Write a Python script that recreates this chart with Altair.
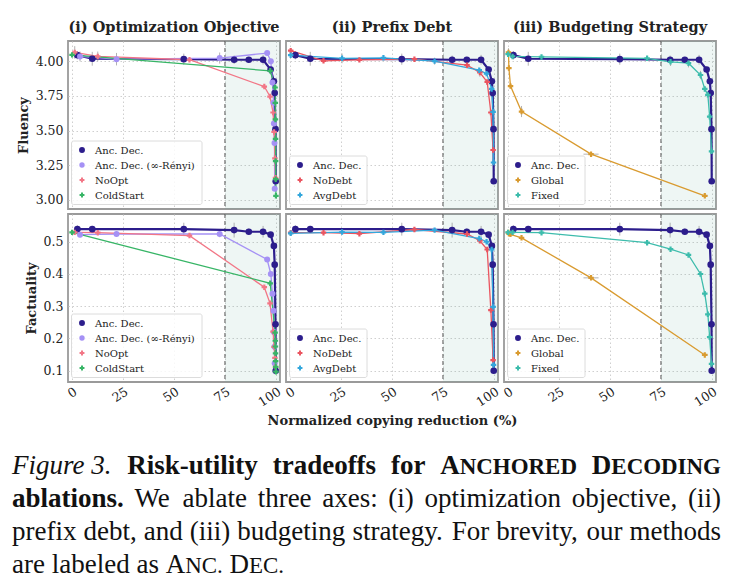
import altair as alt
import pandas as pd

# ---------------- data: normalized copying reduction (%) vs. utility ----------------
# Anc. Dec. (shared by all three ablations)
anc_x = [2.6, 9.9, 54.8, 79.5, 86.7, 93.7, 97.4, 99.0, 99.4, 99.8, 99.9]
anc_flu = [4.043, 4.017, 4.014, 4.010, 4.010, 4.010, 3.940, 3.855, 3.770, 3.510, 3.135]
anc_fac = [0.539, 0.539, 0.539, 0.536, 0.531, 0.531, 0.522, 0.487, 0.429, 0.244, 0.100]
anc_flu_err = [0.030, 0.050, 0.040, 0.030, 0.020, 0.035, 0.020, 0.0, 0.0, 0.0, 0.0]
anc_fac_err = [0.012, 0.010, 0.020, 0.023, 0.010, 0.018, 0.008, 0.0, 0.0, 0.0, 0.0]

# (i) optimization objective
renyi_x = [3.9, 21.8, 72.4, 95.7, 97.5, 98.3, 98.8, 99.0, 99.3, 99.4]
renyi_flu = [4.034, 4.014, 4.022, 4.058, 4.000, 3.846, 3.700, 3.550, 3.410, 3.080]
renyi_fac = [0.522, 0.524, 0.524, 0.445, 0.400, 0.339, 0.286, 0.220, 0.174, 0.123]
renyi_flu_err = [0.035, 0.045, 0.040, 0.0, 0.0, 0.0, 0.0, 0.0, 0.0, 0.0]
renyi_fac_err = [0.008, 0.008, 0.010, 0.0, 0.0, 0.0, 0.0, 0.0, 0.0, 0.0]

noopt_x = [1.3, 12.6, 57.6, 94.3, 97.1, 98.6, 99.1, 99.5, 99.8]
noopt_flu = [4.063, 4.034, 4.010, 3.817, 3.745, 3.630, 3.490, 3.300, 3.160]
noopt_fac = [0.529, 0.528, 0.519, 0.359, 0.309, 0.221, 0.174, 0.140, 0.112]
noopt_flu_err = [0.045, 0.035, 0.0, 0.0, 0.0, 0.0, 0.0, 0.0, 0.0]
noopt_fac_err = [0.006, 0.006, 0.006, 0.0, 0.0, 0.0, 0.0, 0.0, 0.0]

cold_x = [0.0, 97.2, 99.6, 99.7, 99.75, 99.8, 99.85, 99.9, 100.0]
cold_flu = [4.045, 3.930, 3.810, 3.700, 3.580, 3.440, 3.280, 3.150, 3.030]
cold_fac = [0.529, 0.371, 0.218, 0.193, 0.175, 0.154, 0.130, 0.112, 0.097]

# (ii) prefix debt
nodebt_x = [0.3, 16.4, 34.0, 61.0, 86.8, 93.1, 96.7, 98.5, 99.6]
nodebt_flu = [4.075, 4.002, 4.009, 4.014, 3.971, 3.918, 3.850, 3.630, 3.360]
nodebt_fac = [0.528, 0.528, 0.525, 0.538, 0.524, 0.503, 0.476, 0.288, 0.133]
nodebt_flu_err = [0.020, 0.0, 0.0, 0.0, 0.0, 0.030, 0.0, 0.0, 0.0]
nodebt_fac_err = [0.006, 0.0, 0.0, 0.006, 0.0, 0.0, 0.0, 0.0, 0.0]

avgdebt_x = [0.3, 25.5, 45.8, 70.9, 92.8, 96.4, 98.9, 99.6, 99.8]
avgdebt_flu = [4.043, 4.020, 4.024, 4.000, 3.935, 3.910, 3.800, 3.635, 3.270]
avgdebt_fac = [0.526, 0.530, 0.529, 0.536, 0.510, 0.500, 0.476, 0.298, 0.118]
avgdebt_flu_err = [0.0, 0.035, 0.0, 0.025, 0.0, 0.0, 0.0, 0.0, 0.0]
avgdebt_fac_err = [0.0, 0.006, 0.0, 0.006, 0.0, 0.0, 0.0, 0.0, 0.0]

# (iii) budgeting strategy
global_x = [0.2, 0.4, 1.2, 6.6, 40.7, 96.5]
global_flu = [4.063, 3.950, 3.820, 3.637, 3.330, 3.030]
global_fac = [0.529, 0.525, 0.523, 0.512, 0.388, 0.149]
global_flu_err = [0.030, 0.0, 0.0, 0.040, 0.008, 0.015]
global_fac_err = [0.0, 0.0, 0.0, 0.0, 0.006, 0.0]
global_x_err = [0.0, 0.0, 0.0, 0.0, 3.7, 1.5]

fixed_x = [0.0, 2.2, 16.4, 68.2, 79.7, 88.5, 94.4, 96.5, 98.0, 98.9, 99.8]
fixed_flu = [4.050, 4.034, 4.030, 4.020, 3.995, 3.985, 3.900, 3.800, 3.757, 3.600, 3.350]
fixed_fac = [0.529, 0.529, 0.528, 0.497, 0.477, 0.459, 0.400, 0.339, 0.275, 0.204, 0.121]
fixed_flu_err = [0.0, 0.0, 0.0, 0.015, 0.030, 0.030, 0.030, 0.0, 0.0, 0.0, 0.0]

x_ticks = [0, 25, 50, 75, 100]
flu_ticks = [3.0, 3.25, 3.5, 3.75, 4.0]
fac_ticks = [0.1, 0.2, 0.3, 0.4, 0.5]

# ---------------- styling ----------------
SERIF = "DejaVu Serif"
CAPTION_FONT = "Liberation Serif"
W, H = 212, 168

COLORS = {
    "Anc. Dec.": "#2c1d8c",
    "Anc. Dec. (∞-Rényi)": "#a591f5",
    "NoOpt": "#f27686",
    "ColdStart": "#37b566",
    "NoDebt": "#ea5560",
    "AvgDebt": "#33a7dc",
    "Global": "#d99b30",
    "Fixed": "#3dbcac",
}
SHAPES = {"Anc. Dec.": "circle", "Anc. Dec. (∞-Rényi)": "circle"}
YDOM = {"fluency": [2.935, 4.145], "factuality": [0.065, 0.586]}
YTICKS = {"fluency": flu_ticks, "factuality": fac_ticks}
YFMT = {"fluency": ".2f", "factuality": ".1f"}
YTITLE = {"fluency": "Fluency", "factuality": "Factuality"}


def marker_size(method):
    if method == "Anc. Dec.":
        return 44
    return 36 if "Rényi" in method else 30


def rows(method, xs, flu, fac, flu_err=None, fac_err=None, x_err=None):
    n = len(xs)
    flu_err = flu_err or [0.0] * n
    fac_err = fac_err or [0.0] * n
    x_err = x_err or [0.0] * n
    return [
        dict(method=method, step=i, x=xs[i], fluency=flu[i], factuality=fac[i],
             fluency_err=flu_err[i], factuality_err=fac_err[i], x_err=x_err[i],
             lw=2.2 if method == "Anc. Dec." else 1.3, ms=marker_size(method))
        for i in range(n)
    ]


anc_rows = rows("Anc. Dec.", anc_x, anc_flu, anc_fac, anc_flu_err, anc_fac_err)
df_obj = pd.DataFrame(
    anc_rows
    + rows("Anc. Dec. (∞-Rényi)", renyi_x, renyi_flu, renyi_fac, renyi_flu_err, renyi_fac_err)
    + rows("NoOpt", noopt_x, noopt_flu, noopt_fac, noopt_flu_err, noopt_fac_err)
    + rows("ColdStart", cold_x, cold_flu, cold_fac)
)
df_debt = pd.DataFrame(
    anc_rows
    + rows("NoDebt", nodebt_x, nodebt_flu, nodebt_fac, nodebt_flu_err, nodebt_fac_err)
    + rows("AvgDebt", avgdebt_x, avgdebt_flu, avgdebt_fac, avgdebt_flu_err, avgdebt_fac_err)
)
df_budget = pd.DataFrame(
    anc_rows
    + rows("Global", global_x, global_flu, global_fac, global_flu_err, global_fac_err, global_x_err)
    + rows("Fixed", fixed_x, fixed_flu, fixed_fac, fixed_flu_err)
)

ONE = pd.DataFrame({"k": [0]})


def legend_box(methods, box_right):
    """Matplotlib-style legend drawn in the lower-left corner of a panel."""
    step = 15
    first = H - 14 - step * (len(methods) - 1)
    layers = [alt.Chart(ONE).mark_rect(
        fill="white", fillOpacity=0.82, stroke="#dcdcdc", strokeWidth=1, cornerRadius=2,
    ).encode(x=alt.value(3.5), x2=alt.value(box_right),
             y=alt.value(first - 9), y2=alt.value(H - 4.5))]
    for i, m in enumerate(methods):
        yy = first + step * i
        layers.append(alt.Chart(ONE).mark_point(
            filled=True, opacity=1, shape=SHAPES.get(m, "cross"),
            size=marker_size(m) * 0.8, color=COLORS[m],
        ).encode(x=alt.value(14), y=alt.value(yy)))
        layers.append(alt.Chart(pd.DataFrame({"t": [m]})).mark_text(
            font=SERIF, fontSize=10, align="left", baseline="middle", color="#222",
        ).encode(x=alt.value(27), y=alt.value(yy + 0.5), text="t:N"))
    return layers


def panel(df, methods, metric, box_right, title=None, left=False, bottom=False, xlabel=False):
    xsc = alt.Scale(domain=[-2, 102], nice=False, zero=False)
    ysc = alt.Scale(domain=YDOM[metric], nice=False, zero=False)
    xaxis = alt.Axis(values=x_ticks, labels=bottom, ticks=False, domain=False, grid=True,
                     gridColor="#c9c9c9", gridDash=[1.5, 2.5], gridWidth=0.9,
                     labelAngle=-33, labelAlign="right", labelBaseline="top",
                     labelFont=SERIF, labelFontSize=12.5, labelColor="#222", labelPadding=3,
                     titleFont=SERIF, titleFontWeight="bold", titleFontSize=13,
                     titleColor="#222", titlePadding=6)
    yaxis = alt.Axis(values=YTICKS[metric], format=YFMT[metric], labels=left, ticks=False,
                     domain=False, grid=True, gridColor="#c9c9c9", gridDash=[1.5, 2.5],
                     gridWidth=0.9, labelFont=SERIF, labelFontSize=12.5, labelColor="#222",
                     labelPadding=5, titleFont=SERIF, titleFontWeight="bold",
                     titleFontSize=13, titleColor="#222", titlePadding=5)
    xt = "Normalized copying reduction (%)" if xlabel else None
    yt = YTITLE[metric] if left else None

    def X(field):
        return alt.X(field, scale=xsc, axis=xaxis, title=xt)

    def Y(field):
        return alt.Y(field, scale=ysc, axis=yaxis, title=yt)

    colors = [COLORS[m] for m in methods]
    cscale = alt.Scale(domain=methods, range=colors)
    sscale = alt.Scale(domain=methods, range=[SHAPES.get(m, "cross") for m in methods])

    base = alt.Chart(df)
    zone = alt.Chart(pd.DataFrame({"lo": [75], "hi": [102]}))
    shade = zone.mark_rect(color="#55a591", opacity=0.1).encode(
        x=X("lo:Q"), x2="hi:Q", y=alt.value(0), y2=alt.value(H))
    cut = zone.mark_rule(color="#555555", strokeDash=[4, 3], strokeWidth=1).encode(x=X("lo:Q"))

    yerr = base.transform_filter(f"datum.{metric}_err > 0").transform_calculate(
        lo=f"datum.{metric} - datum.{metric}_err", hi=f"datum.{metric} + datum.{metric}_err"
    ).mark_rule(color="#8c8c8c", strokeWidth=0.9, opacity=0.75).encode(
        x=X("x:Q"), y=Y("lo:Q"), y2="hi:Q")
    xerr = base.transform_filter("datum.x_err > 0").transform_calculate(
        lo="datum.x - datum.x_err", hi="datum.x + datum.x_err"
    ).mark_rule(color="#8c8c8c", strokeWidth=0.9, opacity=0.75).encode(
        x=X("lo:Q"), x2="hi:Q", y=Y(f"{metric}:Q"))

    lines = base.mark_line().encode(
        x=X("x:Q"), y=Y(f"{metric}:Q"),
        stroke=alt.Stroke("method:N", scale=cscale, legend=None),
        detail="method:N",
        order=alt.Order("step:Q"),
        strokeWidth=alt.StrokeWidth("lw:Q", scale=None, legend=None),
    )
    points = base.mark_point(filled=True, opacity=1).encode(
        x=X("x:Q"), y=Y(f"{metric}:Q"),
        color=alt.Color("method:N", scale=cscale, legend=None),
        shape=alt.Shape("method:N", scale=sscale, legend=None),
        size=alt.Size("ms:Q", scale=None, legend=None),
    )
    layer = alt.layer(shade, cut, yerr, xerr, lines, points,
                      *legend_box(methods, box_right)).properties(
        width=W, height=H, view=alt.ViewBackground(stroke="#9a9a9a", strokeWidth=1.8))
    if title:
        layer = layer.properties(title=alt.TitleParams(
            text=title, font=SERIF, fontWeight="bold", fontSize=14.5, color="#222",
            offset=5, anchor="middle"))
    return layer


OBJ = ["Anc. Dec.", "Anc. Dec. (∞-Rényi)", "NoOpt", "ColdStart"]
DEBT = ["Anc. Dec.", "NoDebt", "AvgDebt"]
BUDGET = ["Anc. Dec.", "Global", "Fixed"]

# ---------------- figure caption (justified, Times-style metrics) ----------------
ADV = {
    "normal": {" ": 250, "(": 333, ")": 333, ",": 250, ".": 250, ":": 278, "A": 722,
               "C": 667, "D": 722, "E": 611, "F": 556, "N": 722, "W": 944, "a": 444,
               "b": 500, "c": 444, "d": 500, "e": 444, "f": 333, "g": 500, "h": 500,
               "i": 278, "j": 278, "l": 278, "m": 778, "n": 500, "o": 500, "p": 500,
               "r": 333, "s": 389, "t": 278, "u": 500, "v": 500, "x": 500, "y": 500,
               "z": 444},
    "bold": {" ": 250, "-": 333, ".": 250, "A": 722, "C": 722, "D": 722, "E": 667,
             "G": 778, "H": 778, "I": 389, "N": 722, "O": 778, "R": 722, "a": 500,
             "b": 556, "d": 556, "e": 444, "f": 333, "i": 278, "k": 556, "l": 278,
             "n": 556, "o": 500, "r": 444, "s": 389, "t": 333, "u": 556, "y": 500},
    "italic": {" ": 250, "F": 611, "i": 278, "g": 500, "u": 500, "r": 389, "e": 444,
               "3": 500, ".": 250},
}
FS = 27.0
SC = FS * 0.85
CAP_LEFT, CAP_WIDTH = -56, 709
LINE_Y = [87, 120, 153, 186]


def piece_width(text, size, kind):
    return sum(ADV[kind][ch] for ch in text) * size / 1000.0


def R(t, size=FS):
    return (t, size, "normal")


def B(t, size=FS):
    return (t, size, "bold")


def I(t, size=FS):
    return (t, size, "italic")


caption_lines = [
    ([[I("Figure 3.")], [B("Risk-utility")], [B("tradeoffs")], [B("for")],
      [B("A"), B("NCHORED", SC)], [B("D"), B("ECODING", SC)]], True),
    ([[B("ablations.")]] + [[R(w)] for w in
      "We ablate three axes: (i) optimization objective, (ii)".split()], True),
    ([[R(w)] for w in
      "prefix debt, and (iii) budgeting strategy. For brevity, our methods".split()], True),
    ([[R("are")], [R("labeled")], [R("as")], [R("A"), R("NC.", SC)],
      [R("D"), R("EC.", SC)]], False),
]

cap_layers = []
for (words, justify), y in zip(caption_lines, LINE_Y):
    widths = [sum(piece_width(t, s, k) for t, s, k in w) for w in words]
    gap = (CAP_WIDTH - sum(widths)) / (len(words) - 1) if justify else FS * 0.25
    x = CAP_LEFT
    for w, ww in zip(words, widths):
        px = x
        for t, s, k in w:
            cap_layers.append(
                alt.Chart(pd.DataFrame({"t": [t]})).mark_text(
                    font=CAPTION_FONT, fontSize=s,
                    fontWeight="bold" if k == "bold" else "normal",
                    fontStyle="italic" if k == "italic" else "normal",
                    align="left", baseline="alphabetic", color="#111",
                ).encode(x=alt.value(px), y=alt.value(y), text="t:N")
            )
            px += piece_width(t, s, k)
        x += ww + gap

caption = alt.layer(*cap_layers).properties(
    width=W, height=20, view=alt.ViewBackground(strokeOpacity=0))

panels = [
    panel(df_obj, OBJ, "fluency", 134, "(i) Optimization Objective", left=True),
    panel(df_debt, DEBT, "fluency", 81, "(ii) Prefix Debt"),
    panel(df_budget, BUDGET, "fluency", 81, "(iii) Budgeting Strategy"),
    panel(df_obj, OBJ, "factuality", 134, left=True, bottom=True),
    panel(df_debt, DEBT, "factuality", 81, bottom=True, xlabel=True),
    panel(df_budget, BUDGET, "factuality", 81, bottom=True),
    caption,
]

chart = alt.concat(*panels, columns=3, spacing={"row": 5, "column": 6}, bounds="flush").resolve_scale(
    color="independent", shape="independent", stroke="independent",
    x="independent", y="independent",
).properties(
    padding={"left": 12, "top": 19, "right": 5, "bottom": 4},
    background="white",
).configure_view(strokeWidth=0)

chart.save("out.html", embed_options={"renderer": "svg", "actions": False})
